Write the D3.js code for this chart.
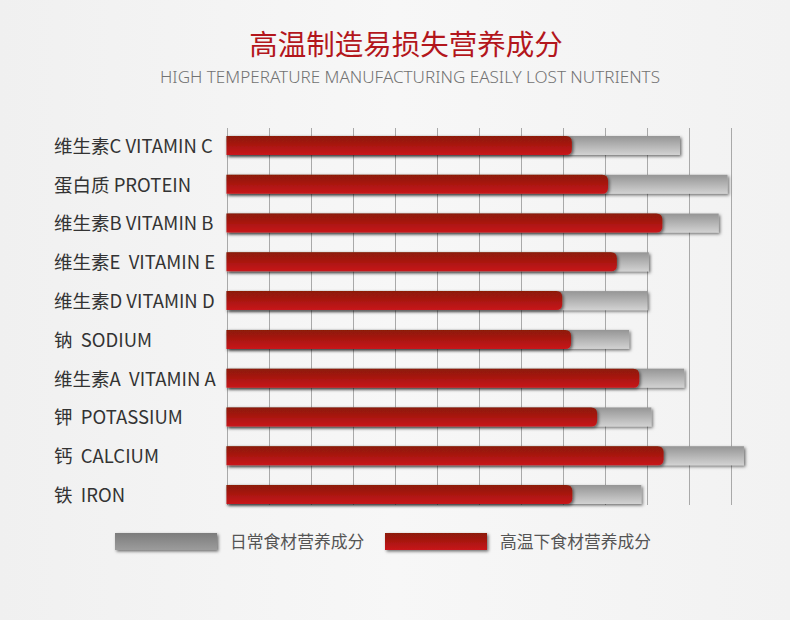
<!DOCTYPE html>
<html>
<head>
<meta charset="utf-8">
<script src="https://cdn.jsdelivr.net/npm/d3@7/dist/d3.min.js"></script>
<style>
  html, body { margin: 0; padding: 0; background: #f3f3f3; }
  svg { display: block; }
  .lbl { white-space: pre; }
</style>
</head>
<body>
<div id="chart"></div>
<script>
const categories = [
  "维生素C VITAMIN C", "蛋白质 PROTEIN", "维生素B VITAMIN B", "维生素E  VITAMIN E",
  "维生素D VITAMIN D", "钠  SODIUM", "维生素A  VITAMIN A", "钾  POTASSIUM",
  "钙  CALCIUM", "铁  IRON"
];
const normalValues = [107.8, 119.1, 117.0, 100.4, 100.1, 95.7, 108.8, 101.0, 123.0, 98.6];
const heatedValues = [82.1, 90.7, 103.6, 92.8, 79.8, 81.9, 98.1, 88.1, 103.9, 82.2];
const gridTicks = [0, 10, 20, 30, 40, 50, 60, 70, 80, 90, 100, 110, 120];
const seriesNames = ["日常食材营养成分", "高温下食材营养成分"];
const titleText = "高温制造易损失营养成分";
const subtitleText = "HIGH TEMPERATURE MANUFACTURING EASILY LOST NUTRIENTS";

const W = 790, H = 620;
const svg = d3.select("#chart").append("svg").attr("width", W).attr("height", H);
const defs = svg.append("defs");

// gradients
const gGray = defs.append("linearGradient").attr("id", "gGray").attr("x1", 0).attr("y1", 0).attr("x2", 0).attr("y2", 1);
gGray.append("stop").attr("offset", "0%").attr("stop-color", "#959595");
gGray.append("stop").attr("offset", "100%").attr("stop-color", "#d2d2d2");
const gRed = defs.append("linearGradient").attr("id", "gRed").attr("x1", 0).attr("y1", 0).attr("x2", 0).attr("y2", 1);
gRed.append("stop").attr("offset", "0%").attr("stop-color", "#8c1a06");
gRed.append("stop").attr("offset", "100%").attr("stop-color", "#c8171b");
const gLegGray = defs.append("linearGradient").attr("id", "gLegGray").attr("x1", 0).attr("y1", 0).attr("x2", 0).attr("y2", 1);
gLegGray.append("stop").attr("offset", "0%").attr("stop-color", "#7c7c7c");
gLegGray.append("stop").attr("offset", "100%").attr("stop-color", "#9c9c9c");
const gBg = defs.append("linearGradient").attr("id", "gBg").attr("x1", 0).attr("y1", 0).attr("x2", 1).attr("y2", 0);
gBg.append("stop").attr("offset", "0%").attr("stop-color", "#f0f0f0");
gBg.append("stop").attr("offset", "50%").attr("stop-color", "#f7f7f7");
gBg.append("stop").attr("offset", "100%").attr("stop-color", "#f2f2f2");

const shadow = defs.append("filter").attr("id", "shadow").attr("x", "-10%").attr("y", "-40%").attr("width", "130%").attr("height", "200%");
shadow.append("feDropShadow").attr("dx", 1.5).attr("dy", 1.5).attr("stdDeviation", 1.6)
  .attr("flood-color", "#000").attr("flood-opacity", 0.55);

svg.append("rect").attr("width", W).attr("height", H).attr("fill", "url(#gBg)");

// title
svg.append("text").attr("x", 406).attr("y", 55).attr("text-anchor", "middle")
  .attr("font-family", "'Noto Sans CJK SC', sans-serif").attr("font-size", 28.5)
  .attr("fill", "#b3161c").text(titleText);
svg.append("text").attr("x", 160).attr("y", 83)
  .attr("textLength", 500).attr("lengthAdjust", "spacingAndGlyphs")
  .attr("font-family", "'Noto Sans', sans-serif").attr("font-weight", 300).attr("font-size", 15.5)
  .attr("fill", "#727272").text(subtitleText);

// scales
const x = d3.scaleLinear().domain([0, 120]).range([226.5, 731.3]);
const y = d3.scaleBand().domain(categories).range([126.5, 513.5]).paddingInner(0.51).paddingOuter(0.245);

// grid
svg.append("g").selectAll("line").data(gridTicks).join("line")
  .attr("x1", d => Math.round(x(d)) + 0.5).attr("x2", d => Math.round(x(d)) + 0.5)
  .attr("y1", 128).attr("y2", 505)
  .attr("stroke", "#a9a9a9").attr("stroke-width", 1);

// labels
svg.append("g").selectAll("text").data(categories).join("text")
  .attr("class", "lbl")
  .attr("x", 54).attr("y", d => y(d) + y.bandwidth() / 2)
  .attr("dy", "0.4em")
  .attr("font-family", "'Noto Sans CJK SC', sans-serif").attr("font-size", 18.5)
  .attr("fill", "#333").text(d => d);

// gray bars
svg.append("g").selectAll("rect").data(categories).join("rect")
  .attr("x", x(0)).attr("y", d => y(d))
  .attr("width", (d, i) => x(normalValues[i]) - x(0)).attr("height", y.bandwidth())
  .attr("fill", "url(#gGray)").attr("filter", "url(#shadow)");

// red bars with rounded right end
function redPath(x0, x1, y0, h) {
  const r = 6;
  return `M${x0},${y0}H${x1 - r}Q${x1},${y0} ${x1},${y0 + r}V${y0 + h - r}Q${x1},${y0 + h} ${x1 - r},${y0 + h}H${x0}Z`;
}
svg.append("g").selectAll("path").data(categories).join("path")
  .attr("d", (d, i) => redPath(x(0), x(heatedValues[i]), y(d), y.bandwidth()))
  .attr("fill", "url(#gRed)").attr("filter", "url(#shadow)");

// legend
const leg = svg.append("g");
leg.append("rect").attr("x", 115).attr("y", 533).attr("width", 102).attr("height", 17)
  .attr("fill", "url(#gLegGray)").attr("filter", "url(#shadow)");
leg.append("text").attr("x", 230).attr("y", 547.5)
  .attr("font-family", "'Noto Sans CJK SC', sans-serif").attr("font-size", 16.8)
  .attr("fill", "#555").text(seriesNames[0]);
leg.append("rect").attr("x", 385).attr("y", 533).attr("width", 102).attr("height", 17)
  .attr("fill", "url(#gRed)").attr("filter", "url(#shadow)");
leg.append("text").attr("x", 500).attr("y", 547.5)
  .attr("font-family", "'Noto Sans CJK SC', sans-serif").attr("font-size", 16.8)
  .attr("fill", "#555").text(seriesNames[1]);
</script>
</body>
</html>
